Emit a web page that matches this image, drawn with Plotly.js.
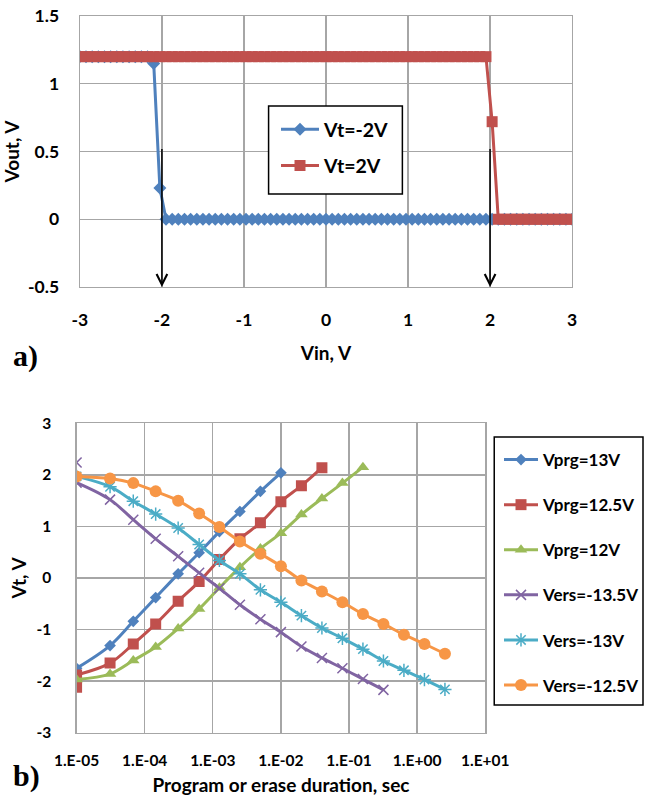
<!DOCTYPE html>
<html>
<head>
<meta charset="utf-8">
<script src="https://cdn.plot.ly/plotly-3.0.1.min.js"></script>
<style>html,body{margin:0;padding:0;background:#fff;}#chart{width:645px;height:799px;}</style>
</head>
<body>
<div id="chart"></div>
<script>
// ---------- Panel a) : Vout vs Vin ----------
var vin = [
-3, -2.925, -2.85, -2.775, -2.7, -2.625, -2.55, -2.475, -2.4, -2.325,
-2.25, -2.175, -2.1, -2.025, -1.95, -1.875, -1.8, -1.725, -1.65, -1.575,
-1.5, -1.425, -1.35, -1.275, -1.2, -1.125, -1.05, -0.975, -0.9, -0.825,
-0.75, -0.675, -0.6, -0.525, -0.45, -0.375, -0.3, -0.225, -0.15, -0.075,
0, 0.075, 0.15, 0.225, 0.3, 0.375, 0.45, 0.525, 0.6, 0.675,
0.75, 0.825, 0.9, 0.975, 1.05, 1.125, 1.2, 1.275, 1.35, 1.425,
1.5, 1.575, 1.65, 1.725, 1.8, 1.875, 1.95, 2.025, 2.1, 2.175,
2.25, 2.325, 2.4, 2.475, 2.55, 2.625, 2.7, 2.775, 2.85, 2.925,
3];
var voutVtNeg2 = [
1.2, 1.2, 1.2, 1.2, 1.2, 1.2, 1.2, 1.2, 1.2, 1.2,
1.2, 1.2, 1.15, 0.23, 0, 0, 0, 0, 0, 0,
0, 0, 0, 0, 0, 0, 0, 0, 0, 0,
0, 0, 0, 0, 0, 0, 0, 0, 0, 0,
0, 0, 0, 0, 0, 0, 0, 0, 0, 0,
0, 0, 0, 0, 0, 0, 0, 0, 0, 0,
0, 0, 0, 0, 0, 0, 0, 0, 0, 0,
0, 0, 0, 0, 0, 0, 0, 0, 0, 0,
0];
var voutVt2 = [
1.2, 1.2, 1.2, 1.2, 1.2, 1.2, 1.2, 1.2, 1.2, 1.2,
1.2, 1.2, 1.2, 1.2, 1.2, 1.2, 1.2, 1.2, 1.2, 1.2,
1.2, 1.2, 1.2, 1.2, 1.2, 1.2, 1.2, 1.2, 1.2, 1.2,
1.2, 1.2, 1.2, 1.2, 1.2, 1.2, 1.2, 1.2, 1.2, 1.2,
1.2, 1.2, 1.2, 1.2, 1.2, 1.2, 1.2, 1.2, 1.2, 1.2,
1.2, 1.2, 1.2, 1.2, 1.2, 1.2, 1.2, 1.2, 1.2, 1.2,
1.2, 1.2, 1.2, 1.2, 1.2, 1.2, 1.2, 0.72, 0, 0,
0, 0, 0, 0, 0, 0, 0, 0, 0, 0,
0];
var namesA = ["Vt=-2V", "Vt=2V"];
var arrowVin = [-2, 2];
var arrowFrom = [0.53, 0.53];
var arrowTo = [-0.5, -0.5];
var xTicksA = [-3, -2, -1, 0, 1, 2, 3];
var xTickTextA = ["-3", "-2", "-1", "0", "1", "2", "3"];
var yTicksA = [-0.5, 0, 0.5, 1, 1.5];
var yTickTextA = ["-0.5", "0", "0.5", "1", "1.5"];

// ---------- Panel b) : Vt vs program/erase duration ----------
var tPrg13 = [1e-5, 3.1e-5, 6.8e-5, 1.45e-4, 3.1e-4, 6.3e-4, 1.25e-3, 2.5e-3, 5e-3, 1e-2];
var vPrg13 = [-1.75, -1.31, -0.84, -0.38, 0.08, 0.49, 0.90, 1.29, 1.68, 2.04];
var tPrg125 = [1e-5, 3.1e-5, 6.8e-5, 1.45e-4, 3.1e-4, 6.3e-4, 1.25e-3, 2.5e-3, 5e-3, 1e-2, 2e-2, 4e-2];
var vPrg125 = [-1.88, -1.65, -1.28, -0.89, -0.45, -0.07, 0.36, 0.76, 1.07, 1.48, 1.79, 2.14];
var tPrg12 = [1e-5, 3.1e-5, 6.8e-5, 1.45e-4, 3.1e-4, 6.3e-4, 1.25e-3, 2.5e-3, 5e-3, 1e-2, 2e-2, 4e-2, 8e-2, 1.6e-1];
var vPrg12 = [-1.97, -1.86, -1.60, -1.34, -0.98, -0.60, -0.19, 0.21, 0.57, 0.87, 1.23, 1.54, 1.84, 2.15];
var tErs135 = [1e-5, 3.1e-5, 6.8e-5, 1.45e-4, 3.1e-4, 6.3e-4, 1.25e-3, 2.5e-3, 5e-3, 1e-2, 2e-2, 4e-2, 8e-2, 1.6e-1, 3.2e-1];
var vErs135 = [1.85, 1.52, 1.13, 0.76, 0.42, 0.10, -0.20, -0.52, -0.80, -1.05, -1.33, -1.55, -1.75, -1.96, -2.17];
var tErs13 = [1e-5, 3.1e-5, 6.8e-5, 1.45e-4, 3.1e-4, 6.3e-4, 1.25e-3, 2.5e-3, 5e-3, 1e-2, 2e-2, 4e-2, 8e-2, 1.6e-1, 3.2e-1, 6.4e-1, 1.28, 2.56];
var vErs13 = [1.97, 1.77, 1.49, 1.24, 0.97, 0.65, 0.34, 0.08, -0.23, -0.47, -0.73, -0.97, -1.17, -1.38, -1.61, -1.79, -1.97, -2.16];
var tErs125 = [1e-5, 3.1e-5, 6.8e-5, 1.45e-4, 3.1e-4, 6.3e-4, 1.25e-3, 2.5e-3, 5e-3, 1e-2, 2e-2, 4e-2, 8e-2, 1.6e-1, 3.2e-1, 6.4e-1, 1.28, 2.56];
var vErs125 = [1.97, 1.93, 1.84, 1.68, 1.50, 1.25, 0.99, 0.71, 0.47, 0.23, -0.05, -0.26, -0.47, -0.70, -0.89, -1.10, -1.28, -1.47];
// extra initial-state points at the first duration
var tInit = [1e-5];
var vPrg125Init = [-2.12];
var vErs135Init = [2.24];
var namesB = ["Vprg=13V", "Vprg=12.5V", "Vprg=12V", "Vers=-13.5V", "Vers=-13V", "Vers=-12.5V"];
var xTicksB = [1e-5, 1e-4, 1e-3, 1e-2, 1e-1, 1, 10];
var xTickTextB = ["1.E-05", "1.E-04", "1.E-03", "1.E-02", "1.E-01", "1.E+00", "1.E+01"];
var yTicksB = [-3, -2, -1, 0, 1, 2, 3];
var yTickTextB = ["-3", "-2", "-1", "0", "1", "2", "3"];

var FONT = "Lato, 'Open Sans', Arial, sans-serif";
var cBlue = "#4F81BD", cRed = "#C0504D", cGreen = "#9BBB59", cPurple = "#8064A2", cCyan = "#4BACC6", cOrange = "#F79646";
function bold(arr) { return arr.map(function (s) { return "<b>" + s + "</b>"; }); }

var mkPurple = {symbol: "x-thin-open", size: 10, color: cPurple, line: {width: 1.5, color: cPurple}};
var mkRed = {symbol: "square", size: 11, color: cRed};

var traces = [
  {x: vin, y: voutVtNeg2, name: "<b>" + namesA[0] + "</b>", type: "scatter", mode: "lines+markers", xaxis: "x", yaxis: "y", legend: "legend", legendgroup: "a1",
   line: {color: cBlue, width: 3}, marker: {symbol: "diamond", size: 10, color: cBlue}},
  {x: vin, y: voutVt2, name: "<b>" + namesA[1] + "</b>", type: "scatter", mode: "lines+markers", xaxis: "x", yaxis: "y", legend: "legend", legendgroup: "a2",
   line: {color: cRed, width: 3}, marker: {symbol: "square", size: 11, color: cRed}},
  {x: tPrg13, y: vPrg13, name: "<b>" + namesB[0] + "</b>", type: "scatter", mode: "lines+markers", xaxis: "x2", yaxis: "y2", legend: "legend2", legendgroup: "b1",
   line: {color: cBlue, width: 3, shape: "spline"}, marker: {symbol: "diamond", size: 9, color: cBlue}},
  {x: tPrg125, y: vPrg125, name: "<b>" + namesB[1] + "</b>", type: "scatter", mode: "lines+markers", xaxis: "x2", yaxis: "y2", legend: "legend2", legendgroup: "b2",
   line: {color: cRed, width: 3, shape: "spline"}, marker: mkRed},
  {x: tInit, y: vPrg125Init, type: "scatter", mode: "markers", xaxis: "x2", yaxis: "y2", legend: "legend2", legendgroup: "b2", showlegend: false, marker: mkRed},
  {x: tPrg12, y: vPrg12, name: "<b>" + namesB[2] + "</b>", type: "scatter", mode: "lines+markers", xaxis: "x2", yaxis: "y2", legend: "legend2", legendgroup: "b3",
   line: {color: cGreen, width: 3, shape: "spline"}, marker: {symbol: "triangle-up", size: 11, color: cGreen}},
  {x: tErs135, y: vErs135, name: "<b>" + namesB[3] + "</b>", type: "scatter", mode: "lines+markers", xaxis: "x2", yaxis: "y2", legend: "legend2", legendgroup: "b4",
   line: {color: cPurple, width: 3, shape: "spline"}, marker: mkPurple},
  {x: tInit, y: vErs135Init, type: "scatter", mode: "markers", xaxis: "x2", yaxis: "y2", legend: "legend2", legendgroup: "b4", showlegend: false, marker: mkPurple},
  {x: tErs13, y: vErs13, name: "<b>" + namesB[4] + "</b>", type: "scatter", mode: "lines+markers", xaxis: "x2", yaxis: "y2", legend: "legend2", legendgroup: "b5",
   line: {color: cCyan, width: 3, shape: "spline"}, marker: {symbol: "asterisk-open", size: 11, color: cCyan, line: {width: 1.5, color: cCyan}}},
  {x: tErs125, y: vErs125, name: "<b>" + namesB[5] + "</b>", type: "scatter", mode: "lines+markers", xaxis: "x2", yaxis: "y2", legend: "legend2", legendgroup: "b6",
   line: {color: cOrange, width: 3, shape: "spline"}, marker: {symbol: "circle", size: 12, color: cOrange}}
];

var W = 645, H = 799;
function px(v) { return v / W; }
function py(v) { return 1 - v / H; }

var gridC = "#a6a6a6";
var tickFontA = {family: FONT, size: 17.5, color: "#000"};
var tickFontB = {family: FONT, size: 15.5, color: "#000"};
var titleFont = {family: FONT, size: 19, color: "#000"};

var annotations = [];
for (var i = 0; i < arrowVin.length; i++) {
  annotations.push({xref: "x", yref: "y", axref: "x", ayref: "y", x: arrowVin[i], y: arrowTo[i], ax: arrowVin[i], ay: arrowFrom[i],
    text: "", showarrow: true, arrowhead: 5, arrowsize: 1.4, arrowwidth: 1.5, arrowcolor: "#000"});
}
annotations.push({xref: "paper", yref: "paper", x: px(11), y: py(356), xanchor: "left", yanchor: "middle", showarrow: false,
  text: "<b>a)</b>", font: {family: "'Liberation Serif', 'Times New Roman', serif", size: 30, color: "#000"}});
annotations.push({xref: "paper", yref: "paper", x: px(11), y: py(776), xanchor: "left", yanchor: "middle", showarrow: false,
  text: "<b>b)</b>", font: {family: "'Liberation Serif', 'Times New Roman', serif", size: 30, color: "#000"}});

var layout = {
  width: W, height: H,
  margin: {l: 0, r: 0, t: 0, b: 0},
  paper_bgcolor: "#fff", plot_bgcolor: "#fff",
  font: {family: FONT, color: "#000"},
  xaxis: {domain: [px(80), px(573)], anchor: "y", range: [-3, 3], tickvals: xTicksA, ticktext: bold(xTickTextA),
    showgrid: true, gridcolor: gridC, gridwidth: 1.3, zeroline: false, showline: true, mirror: true, linecolor: gridC, linewidth: 1.3,
    ticks: "", ticklabelstandoff: 17, tickfont: tickFontA, automargin: false,
    title: {text: "<b>Vin, V</b>", font: titleFont, standoff: 17}},
  yaxis: {domain: [py(287), py(16)], anchor: "x", range: [-0.5, 1.5], tickvals: yTicksA, ticktext: bold(yTickTextA),
    showgrid: true, gridcolor: gridC, gridwidth: 1.3, zeroline: false, showline: true, mirror: true, linecolor: gridC, linewidth: 1.3,
    ticks: "", ticklabelstandoff: 16, tickfont: tickFontA, automargin: false,
    title: {text: "<b>Vout, V</b>", font: titleFont, standoff: 3}},
  xaxis2: {domain: [px(76.7), px(486)], anchor: "y2", type: "log", range: [-5, 1], tickvals: xTicksB, ticktext: bold(xTickTextB),
    showgrid: true, gridcolor: gridC, gridwidth: 1.3, zeroline: false, showline: true, mirror: true, linecolor: gridC, linewidth: 1.3,
    ticks: "", ticklabelstandoff: 13, tickfont: tickFontB, automargin: false,
    title: {text: "<b>Program or erase duration, sec</b>", font: titleFont, standoff: 11}},
  yaxis2: {domain: [py(732.7), py(423.3)], anchor: "x2", range: [-3, 3], tickvals: yTicksB, ticktext: bold(yTickTextB),
    showgrid: true, gridcolor: gridC, gridwidth: 1.3, zeroline: false, showline: true, mirror: true, linecolor: gridC, linewidth: 1.3,
    ticks: "", ticklabelstandoff: 21, tickfont: tickFontB, automargin: false,
    title: {text: "<b>Vt, V</b>", font: titleFont, standoff: 4}},
  legend: {x: px(276), y: py(110), xanchor: "left", yanchor: "top", bgcolor: "rgba(0,0,0,0)", borderwidth: 0,
    font: {family: FONT, size: 19.5, color: "#000"}, traceorder: "grouped", tracegroupgap: 8, itemwidth: 38},
  legend2: {x: px(500), y: py(442), xanchor: "left", yanchor: "top", bgcolor: "rgba(0,0,0,0)", borderwidth: 0,
    font: {family: FONT, size: 17, color: "#000"}, traceorder: "grouped", tracegroupgap: 20, itemwidth: 34},
  shapes: [
    {type: "rect", xref: "paper", yref: "paper", x0: px(269), x1: px(403), y0: py(194), y1: py(106), layer: "above",
     fillcolor: "#fff", line: {color: "#000", width: 1.5}},
    {type: "rect", xref: "paper", yref: "paper", x0: px(495), x1: px(644), y0: py(705), y1: py(437), layer: "above",
     fillcolor: "#fff", line: {color: "#000", width: 1.5}}
  ],
  annotations: annotations,
  showlegend: true
};

Plotly.newPlot("chart", traces, layout, {staticPlot: true, displayModeBar: false});
</script>
</body>
</html>
